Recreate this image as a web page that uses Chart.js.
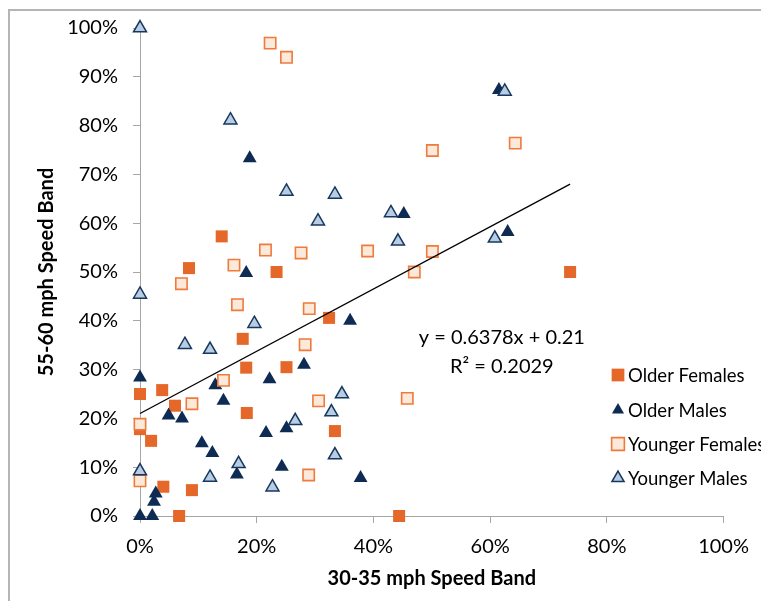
<!DOCTYPE html>
<html>
<head>
<meta charset="utf-8">
<script src="https://cdn.jsdelivr.net/npm/chart.js@4/dist/chart.umd.min.js"></script>
<style>
  html, body { margin: 0; padding: 0; background: #fff; overflow: hidden; }
  #wrap { width: 761px; height: 601px; position: relative; }
</style>
</head>
<body>
<div id="wrap"><canvas id="scatter"></canvas></div>
<script>
// values in percent
const olderFemalesX = [0, 0, 1.9, 3.8, 6.0, 4.0, 6.7, 8.9, 8.4, 14.0, 17.6, 18.2, 18.3, 23.4, 25.1, 32.4, 33.4, 44.4, 73.7];
const olderFemalesY = [25.0, 17.8, 15.4, 25.8, 22.6, 6.0, 0, 5.3, 50.8, 57.3, 36.3, 30.4, 21.1, 50.0, 30.5, 40.6, 17.4, 0, 50.0];

const olderMalesX = [0, 0, 2.1, 2.4, 2.7, 4.9, 7.2, 10.6, 12.4, 12.9, 14.3, 16.6, 18.2, 18.8, 21.6, 22.2, 24.3, 25.1, 28.1, 36.0, 37.8, 45.2, 61.5, 63.0];
const olderMalesY = [28.4, 0, 0, 2.9, 4.6, 20.6, 20.0, 14.9, 12.9, 26.8, 23.6, 8.5, 49.8, 73.3, 17.0, 28.0, 10.1, 18.0, 31.0, 40.0, 7.8, 61.9, 87.3, 58.2];

const youngerFemalesX = [22.3, 25.1, 50.1, 64.3, 21.5, 27.6, 39.0, 50.1, 16.1, 7.1, 47.0, 16.7, 29.0, 28.3, 14.3, 8.9, 30.6, 45.8, 0, 0, 28.9];
const youngerFemalesY = [96.9, 94.0, 74.9, 76.4, 54.5, 53.9, 54.3, 54.2, 51.4, 47.6, 50.0, 43.3, 42.5, 35.1, 27.8, 23.0, 23.6, 24.1, 18.8, 7.2, 8.4];

const youngerMalesX = [0, 0, 0, 15.5, 25.1, 33.4, 30.5, 43.0, 44.2, 60.8, 62.5, 19.6, 7.7, 12.0, 34.6, 32.8, 26.6, 33.4, 16.9, 12.0, 22.7];
const youngerMalesY = [100, 45.4, 9.2, 81.1, 66.5, 65.9, 60.4, 62.1, 56.3, 56.9, 87.0, 39.4, 35.1, 34.1, 25.0, 21.3, 19.5, 12.5, 10.7, 7.9, 5.9];

const seriesNames = ['Older Females', 'Older Males', 'Younger Females', 'Younger Males'];
const xTicks = [0, 20, 40, 60, 80, 100];
const yTicks = [0, 10, 20, 30, 40, 50, 60, 70, 80, 90, 100];

// trend line y = 0.6378x + 0.21 (fractions)
const trendSlope = 0.6378;
const trendIntercept = 0.21;
const trendR2 = 0.2029;

function pts(xs, ys) {
    return xs.map((x, i) => ({ x: x, y: ys[i] }));
}

const allX = olderFemalesX.concat(olderMalesX, youngerFemalesX, youngerMalesX);
const trendMinX = Math.min(...allX);
const trendMaxX = Math.max(...allX);
const trendPts = [trendMinX, trendMaxX].map(x => ({ x: x, y: (trendSlope * x / 100 + trendIntercept) * 100 }));

const FONT = 'Lato, "Open Sans", sans-serif';

const styles = [
    { pointStyle: 'rect', pointRadius: 8.5, backgroundColor: '#E5682A', borderColor: '#E5682A', pointBorderWidth: 0 },
    { pointStyle: 'triangle', pointRadius: 8, backgroundColor: '#0D2B53', borderColor: '#0D2B53', pointBorderWidth: 0 },
    { pointStyle: 'rect', pointRadius: 8, backgroundColor: '#FDE9D9', borderColor: '#EE7A3C', pointBorderWidth: 1.6 },
    { pointStyle: 'triangle', pointRadius: 7.5, backgroundColor: '#B8CCE4', borderColor: '#17375E', pointBorderWidth: 1.5 }
];

const frame = {
    id: 'frame',
    beforeDraw(chart) {
        const ctx = chart.ctx;
        ctx.save();
        ctx.strokeStyle = '#b5b5b5';
        ctx.lineWidth = 2;
        ctx.strokeRect(9, 10, 800, 700);
        ctx.restore();
    },
    afterDraw(chart) {
        const ctx = chart.ctx;
        const xs = chart.scales.x, ys = chart.scales.y;
        ctx.save();
        // equation
        ctx.fillStyle = '#000';
        ctx.font = '20px ' + FONT;
        ctx.textAlign = 'center';
        ctx.textBaseline = 'middle';
        const ex = xs.getPixelForValue(62);
        ctx.fillText('y = ' + trendSlope + 'x + ' + trendIntercept, ex, ys.getPixelForValue(36.6));
        ctx.fillText('R² = ' + trendR2, ex, ys.getPixelForValue(30.6));
        // legend
        ctx.font = '18.5px ' + FONT;
        ctx.textAlign = 'left';
        const rows = [375, 410, 444, 478];
        seriesNames.forEach((name, i) => {
            const s = styles[i];
            ctx.fillStyle = s.backgroundColor;
            ctx.strokeStyle = s.borderColor;
            ctx.lineWidth = s.pointBorderWidth;
            Chart.helpers.drawPoint(ctx, {
                pointStyle: s.pointStyle,
                radius: s.pointStyle === 'rect' ? 9 : 7,
                rotation: 0,
                borderWidth: s.pointBorderWidth
            }, 618, rows[i]);
            ctx.fillStyle = '#000';
            ctx.fillText(name, 628, rows[i] + 1);
        });
        ctx.restore();
    }
};

const datasets = [olderFemalesX, olderMalesX, youngerFemalesX, youngerMalesX].map((xs, i) => {
    const ysArr = [olderFemalesY, olderMalesY, youngerFemalesY, youngerMalesY][i];
    return Object.assign({
        label: seriesNames[i],
        data: pts(xs, ysArr),
        order: 4 - i,
        clip: false
    }, styles[i]);
});
datasets.push({
    type: 'line',
    label: 'Trend',
    data: trendPts,
    borderColor: '#000',
    borderWidth: 1.3,
    pointRadius: 0,
    fill: false,
    clip: false,
    order: 0
});

new Chart(document.getElementById('scatter'), {
    type: 'scatter',
    data: { datasets: datasets },
    options: {
        responsive: true,
        maintainAspectRatio: false,
        animation: false,
        layout: { padding: { left: 0, right: 26, top: 28, bottom: 0 } },
        plugins: {
            legend: { display: false },
            tooltip: { enabled: false }
        },
        scales: {
            x: {
                type: 'linear',
                min: 0,
                max: 100,
                afterBuildTicks: axis => { axis.ticks = xTicks.map(v => ({ value: v })); },
                afterFit: axis => { axis.height = 85; },
                grid: { display: true, drawOnChartArea: false, drawTicks: true, tickLength: 7, color: '#a6a6a6' },
                border: { display: true, color: '#a6a6a6' },
                ticks: {
                    color: '#000',
                    font: { family: FONT, size: 20 },
                    padding: 12,
                    maxRotation: 0,
                    callback: v => v + '%'
                },
                title: {
                    display: true,
                    text: '30-35 mph Speed Band',
                    color: '#000',
                    font: { family: FONT, size: 20, weight: 'bold' },
                    padding: { top: 0, bottom: 10 }
                }
            },
            y: {
                type: 'linear',
                min: 0,
                max: 100,
                afterBuildTicks: axis => { axis.ticks = yTicks.map(v => ({ value: v })); },
                afterFit: axis => { axis.width = 140; },
                grid: { display: true, drawOnChartArea: false, drawTicks: true, tickLength: 7, color: '#a6a6a6' },
                border: { display: true, color: '#a6a6a6' },
                ticks: {
                    color: '#000',
                    font: { family: FONT, size: 20 },
                    padding: 15,
                    callback: v => v + '%'
                },
                title: {
                    display: true,
                    text: '55-60 mph Speed Band',
                    color: '#000',
                    font: { family: FONT, size: 20, weight: 'bold' },
                    padding: { top: 35, bottom: 0 }
                }
            }
        }
    },
    plugins: [frame]
});
</script>
</body>
</html>
